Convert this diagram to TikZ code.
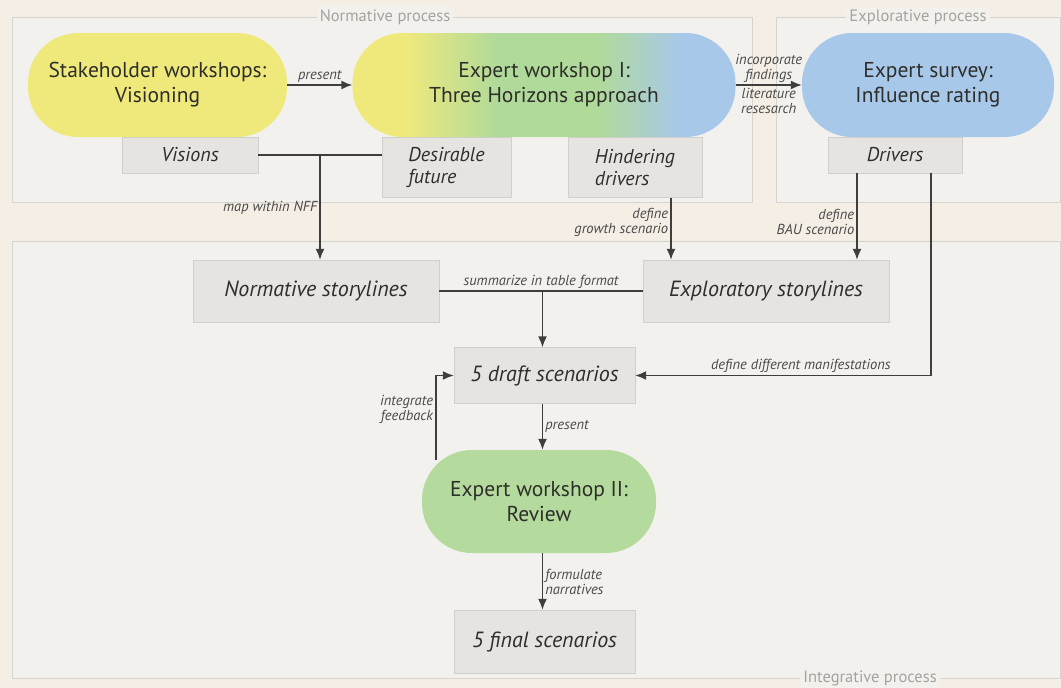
\documentclass[tikz,border=0pt]{standalone}
\usepackage{fontspec}
\setmainfont{PT Sans}
\usetikzlibrary{arrows.meta, positioning}

\definecolor{pagebg}{HTML}{F4EEE4}
\definecolor{panelbg}{HTML}{F2F1ED}
\definecolor{panelline}{HTML}{D6D4CF}
\definecolor{titlegray}{HTML}{A5A39E}
\definecolor{boxfill}{HTML}{E5E4E1}
\definecolor{boxline}{HTML}{D0CFCB}
\definecolor{yellowws}{HTML}{EFE97C}
\definecolor{greenws}{HTML}{B4DB9D}
\definecolor{midgreen}{HTML}{B0DA9A}
\definecolor{bluews}{HTML}{A8C8EA}
\definecolor{inktext}{HTML}{2E2E2A}
\definecolor{arrowgray}{HTML}{3E3E3E}
\definecolor{notegray}{HTML}{4A4A4A}

\pgfdeclarehorizontalshading{horizons}{100bp}{color(0bp)=(yellowws); color(32bp)=(yellowws); color(44bp)=(midgreen); color(57bp)=(midgreen); color(68bp)=(bluews); color(100bp)=(bluews)}

\begin{document}
\begin{tikzpicture}[x=1pt, y=-1pt,
        workshop/.style={rounded corners=50pt, minimum height=104pt, align=center, inner sep=0pt, text=inktext, font=\fontsize{21.5}{25}\selectfont},
        result/.style={draw=boxline, fill=boxfill, align=left, inner sep=0pt, text=inktext, font=\fontsize{20}{22}\selectfont\itshape},
        bigresult/.style={result, font=\fontsize{22}{25}\selectfont\itshape},
        flow/.style={-{Latex[length=11pt,width=9pt]}, draw=arrowgray, line width=1.6pt},
        link/.style={draw=arrowgray, line width=1.6pt},
        note/.style={font=\fontsize{14.5}{15}\selectfont\itshape, text=notegray, inner sep=2pt},
        panel/.style={draw=panelline, fill=panelbg, line width=1pt},
        paneltitle/.style={fill=panelbg, text=titlegray, inner sep=3pt, font=\fontsize{16.5}{18}\selectfont}
    ]
    \useasboundingbox[fill=pagebg] (0,0) rectangle (1061,688);

    % Process panels
    \draw[panel] (12,17) rectangle (752,202);
    \draw[panel] (776,17) rectangle (1060,202);
    \draw[panel] (12,241) rectangle (1060,678);
    \node[paneltitle] (normtitle) at (385,17) {Normative process};
    \node[paneltitle] (explotitle) at (918,17) {Explorative process};
    \node[paneltitle] (integtitle) at (870,678) {Integrative process};

    % Outputs
    \node[result, minimum width=136pt, minimum height=36pt] (visions) at (190,155) {Visions};
    \node[result, minimum width=129pt, minimum height=60pt] (desire) at (446.5,167.5) {Desirable\\future};
    \node[result, minimum width=134pt, minimum height=60pt] (hinder) at (635,167.5) {Hindering\\drivers};
    \node[result, minimum width=134pt, minimum height=36pt] (drivers) at (895,155) {Drivers};
    \node[bigresult, minimum width=246pt, minimum height=62pt] (normstory) at (316,291) {Normative storylines};
    \node[bigresult, minimum width=246pt, minimum height=62pt] (explor) at (766,291) {Exploratory storylines};
    \node[bigresult, minimum width=181pt, minimum height=56pt] (draft) at (544.5,375.5) {5 draft scenarios};
    \node[bigresult, minimum width=181pt, minimum height=63pt] (final) at (544.5,641.5) {5 final scenarios};

    % Workshops and survey
    \node[workshop, fill=yellowws, minimum width=259pt] (stake) at (157.5,85) {Stakeholder workshops:\\Visioning};
    \node[workshop, shading=horizons, minimum width=383pt] (expone) at (544,85) {Expert workshop I:\\Three Horizons approach};
    \node[workshop, fill=bluews, minimum width=252pt] (survey) at (928,85) {Expert survey:\\Influence rating};
    \node[workshop, fill=greenws, minimum width=234pt, minimum height=103pt] (review) at (539,501.5) {Expert workshop II:\\Review};

    % Connections
    \draw[flow] (stake) -- node[note, above] {present} (expone);
    \draw[flow] (expone) -- node[note, above, align=center] {incorporate\\findings} node[note, below, align=center] {literature\\resesarch} (survey);
    \draw[link] (visions.east) -- (visions.east -| desire.west);
    \draw[flow] ([xshift=4pt]visions.east -| normstory.north) -- node[note, left, pos=0.5] {map within NFF} ([xshift=4pt]normstory.north);
    \draw[flow] ([xshift=36pt]hinder.south) -- node[note, left, align=right, pos=0.4] {define\\growth scenario} ([xshift=36pt]hinder.south |- explor.north);
    \draw[flow] ([xshift=-38pt]drivers.south) -- node[note, left, align=right, pos=0.56] {define\\BAU scenario} ([xshift=-38pt]drivers.south |- explor.north);
    \draw[flow] ([xshift=36pt]drivers.south) |- node[note, above, pos=0.72] {define different manifestations} (draft.east);
    \draw[link] (normstory.east) -- node[note, above] {summarize in table format} (explor.west);
    \draw[flow] ([xshift=-2pt]draft.north |- normstory.east) -- ([xshift=-2pt]draft.north);
    \draw[flow] ([xshift=-2pt]draft.south) -- node[note, right] {present} ([xshift=-2pt]draft.south |- review.north);
    \draw[flow] ([xshift=14pt,yshift=-10pt]review.north west) |- node[note, left, align=right, pos=0.3] {integrate\\feedback} (draft.west);
    \draw[flow] ([xshift=-2pt]final.north |- review.south) -- node[note, right, align=left] {formulate\\narratives} ([xshift=-2pt]final.north);

\end{tikzpicture}
\end{document}
